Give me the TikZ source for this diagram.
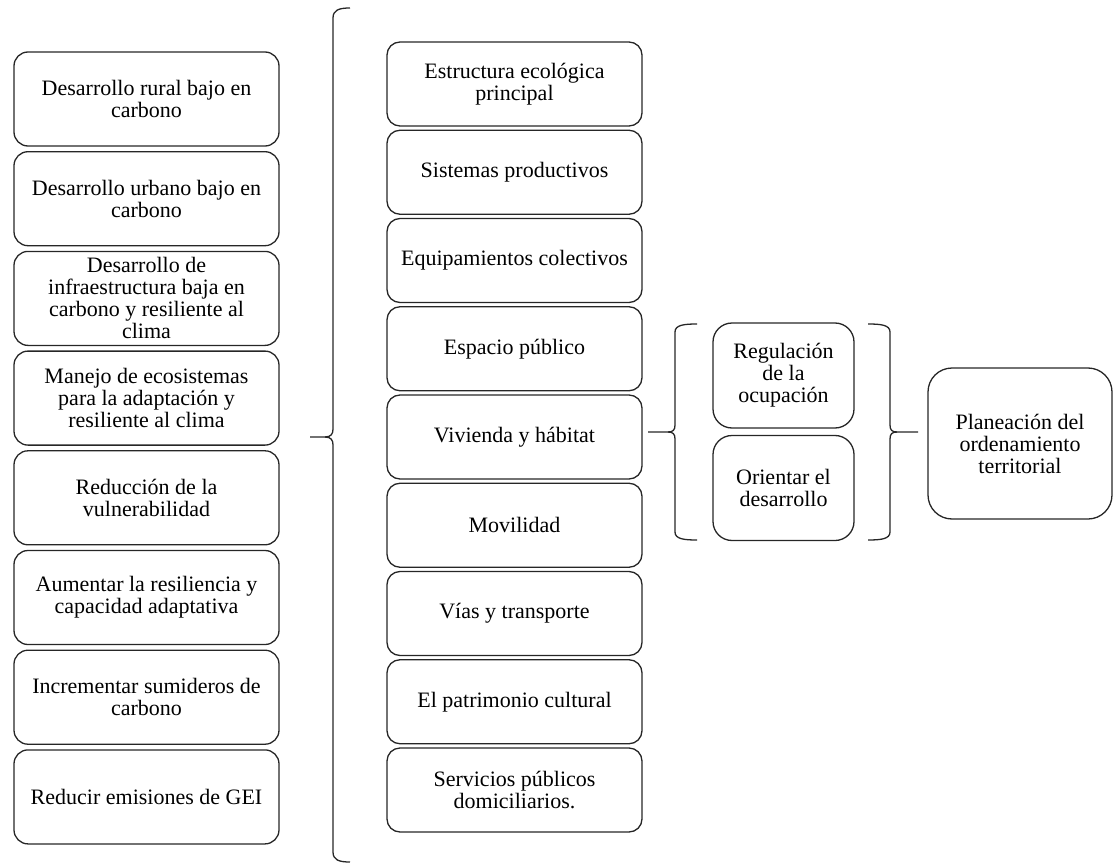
\documentclass[tikz,border=0pt]{standalone}
\usepackage{fontspec}
\setmainfont{Liberation Serif}
\begin{document}
\begin{tikzpicture}[x=1pt,y=-1pt,
  box/.style={draw=black!85, line width=1.3pt, align=center, inner sep=2pt,
    font=\fontsize{22}{22}\selectfont},
  lbox/.style={box, rounded corners=14pt, minimum width=265pt, minimum height=94pt},
  mbox/.style={box, rounded corners=13pt, minimum width=255pt, minimum height=84pt},
  sbox/.style={box, rounded corners=19pt, minimum width=141pt, minimum height=105pt},
  pbox/.style={box, rounded corners=24pt, minimum width=184pt, minimum height=151pt},
  bracestyle/.style={draw=black!85, line width=1.3pt}]
\useasboundingbox (0,0) rectangle (1114,864);

% left column
\node[lbox] (l1) at (146.5,99)   {Desarrollo rural bajo en\\carbono};
\node[lbox] (l2) at (146.5,198.7) {Desarrollo urbano bajo en\\carbono};
\node[lbox] (l3) at (146.5,298.4) {Desarrollo de\\infraestructura baja en\\carbono y resiliente al\\clima};
\node[lbox] (l4) at (146.5,398.1) {Manejo de ecosistemas\\para la adaptación y\\resiliente al clima};
\node[lbox] (l5) at (146.5,497.8) {Reducción de la\\vulnerabilidad};
\node[lbox] (l6) at (146.5,597.5) {Aumentar la resiliencia y\\capacidad adaptativa};
\node[lbox] (l7) at (146.5,697.2) {Incrementar sumideros de\\carbono};
\node[lbox] (l8) at (146.5,796.9) {Reducir emisiones de GEI};

% middle column
\node[mbox] (m1) at (514.5,84)     {Estructura ecológica\\principal};
\node[mbox] (m2) at (514.5,172.25) {Sistemas productivos};
\node[mbox] (m3) at (514.5,260.5)  {Equipamientos colectivos};
\node[mbox] (m4) at (514.5,348.75) {Espacio público};
\node[mbox] (m5) at (514.5,437)    {Vivienda y hábitat};
\node[mbox] (m6) at (514.5,525.25) {Movilidad};
\node[mbox] (m7) at (514.5,613.5)  {Vías y transporte};
\node[mbox] (m8) at (514.5,701.75) {El patrimonio cultural};
\node[mbox] (m9) at (514.5,790)    {Servicios públicos\\domiciliarios.};

% small boxes
\node[sbox] (s1) at (783.5,375.5) {Regulación\\de la\\ocupación};
\node[sbox] (s2) at (783.5,488)   {Orientar el\\desarrollo};

% final box
\node[pbox] (p) at (1020,443.5) {Planeación del\\ordenamiento\\territorial};

% big brace
\draw[bracestyle] (350,8) .. controls (339,8) and (333,10) .. (333,18) -- (333,429)
  .. controls (333,434) and (331,437) .. (325,437) -- (310,437);
\draw[bracestyle] (325,437) .. controls (331,437) and (333,440) .. (333,445) -- (333,852)
  .. controls (333,860) and (339,862) .. (350,862);

% second brace (left of small boxes)
\draw[bracestyle] (697,324) .. controls (684,324) and (675,325) .. (675,332) -- (675,425)
  .. controls (675,430) and (673,432) .. (668,432) -- (648,432);
\draw[bracestyle] (668,432) .. controls (673,432) and (675,434) .. (675,439) -- (675,532)
  .. controls (675,539) and (684,540) .. (697,540);

% third brace (right of small boxes)
\draw[bracestyle] (868,324) .. controls (881,324) and (890,325) .. (890,332) -- (890,425)
  .. controls (890,430) and (892,432) .. (897,432) -- (918,432);
\draw[bracestyle] (897,432) .. controls (892,432) and (890,434) .. (890,439) -- (890,532)
  .. controls (890,539) and (881,540) .. (868,540);
\end{tikzpicture}
\end{document}
